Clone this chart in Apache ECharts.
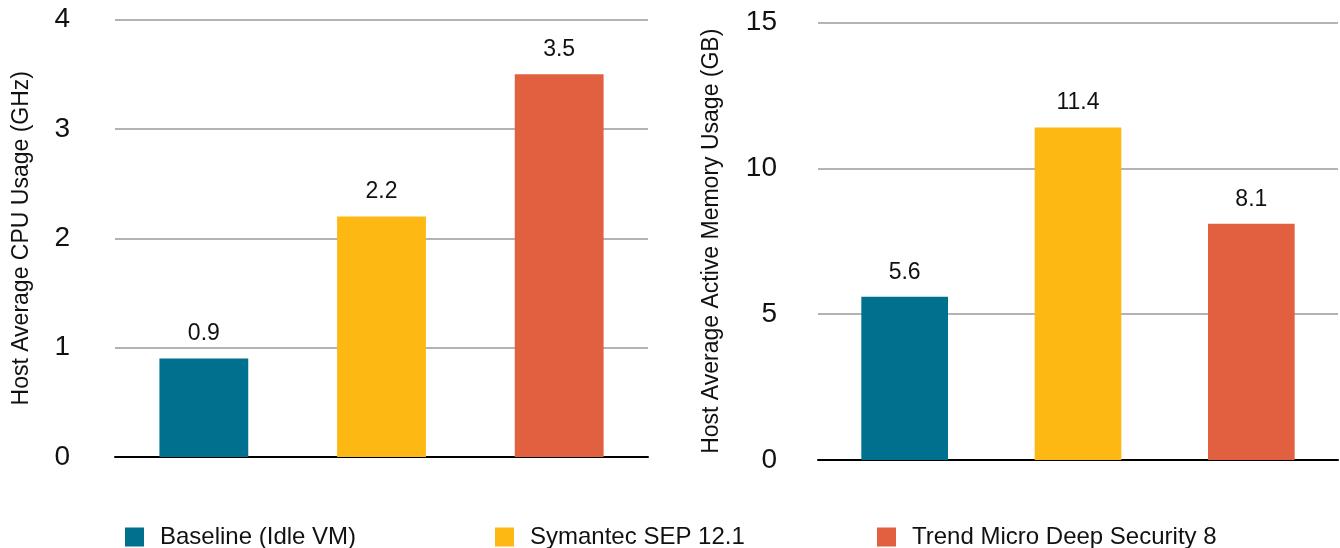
<!DOCTYPE html>
<html>
<head>
<meta charset="utf-8">
<script src="https://cdn.jsdelivr.net/npm/echarts@6/dist/echarts.min.js"></script>
<style>
  html, body { margin: 0; padding: 0; background: #fff; }
  #chart { width: 1340px; height: 548px; }
</style>
</head>
<body>
<div id="chart"></div>
<script>
// data
var products = ['Baseline (Idle VM)', 'Symantec SEP 12.1', 'Trend Micro Deep Security 8'];
var colors = ['#00708f', '#fdb813', '#e0603f'];
var cpuValues = [0.9, 2.2, 3.5];       // GHz
var memValues = [5.6, 11.4, 8.1];      // GB
var cpuTicks = { min: 0, max: 4, interval: 1 };
var memTicks = { min: 0, max: 15, interval: 5 };

var font = '"Liberation Sans", Arial, Helvetica, sans-serif';
var chart = echarts.init(document.getElementById('chart'));

// one series per product per grid, placed in its own category slot
function makeSeries(values, axisIdx) {
    return products.map(function (name, i) {
        var d = values.map(function (v, j) { return j === i ? v : '-'; });
        return {
            name: name,
            type: 'bar',
            xAxisIndex: axisIdx,
            yAxisIndex: axisIdx,
            barWidth: '50%',
            barGap: '-100%',
            itemStyle: { color: colors[i] },
            label: {
                show: true,
                position: 'top',
                distance: 13,
                color: '#111',
                fontSize: 23,
                fontFamily: font
            },
            data: d
        };
    });
}

function yAxis(ticks, gridIdx, title, gap, margin) {
    return {
        type: 'value',
        gridIndex: gridIdx,
        min: ticks.min,
        max: ticks.max,
        interval: ticks.interval,
        name: title,
        nameLocation: 'middle',
        nameGap: gap,
        nameTextStyle: { color: '#111', fontSize: 23, fontFamily: font },
        axisLine: { show: false },
        axisTick: { show: false },
        axisLabel: { color: '#111', fontSize: 28, fontFamily: font, margin: margin },
        splitLine: { lineStyle: { color: '#b3b3b3', width: 2 } }
    };
}

function xAxis(gridIdx) {
    return {
        type: 'category',
        gridIndex: gridIdx,
        data: products,
        axisLine: { lineStyle: { color: '#000', width: 2 } },
        axisTick: { show: false },
        axisLabel: { show: false }
    };
}

function legendAt(x, name) {
    return {
        left: x,
        top: 520,
        padding: 5,
        itemWidth: 19,
        itemHeight: 19,
        icon: 'rect',
        data: [name],
        textStyle: { color: '#111', fontSize: 24, fontFamily: font, padding: [0, 0, 0, 11] }
    };
}

var option = {
    animation: false,
    grid: [
        { left: 115, top: 19.5, width: 533, height: 437.5 },
        { left: 818, top: 22.5, width: 520, height: 437.5 }
    ],
    legend: [
        legendAt(120, products[0]),
        legendAt(490, products[1]),
        legendAt(872, products[2])
    ],
    xAxis: [xAxis(0), xAxis(1)],
    yAxis: [
        yAxis(cpuTicks, 0, 'Host Average CPU Usage (GHz)', 82, 45),
        yAxis(memTicks, 1, 'Host Average Active Memory Usage (GB)', 95, 41)
    ],
    series: makeSeries(cpuValues, 0).concat(makeSeries(memValues, 1))
};
chart.setOption(option);
</script>
</body>
</html>
